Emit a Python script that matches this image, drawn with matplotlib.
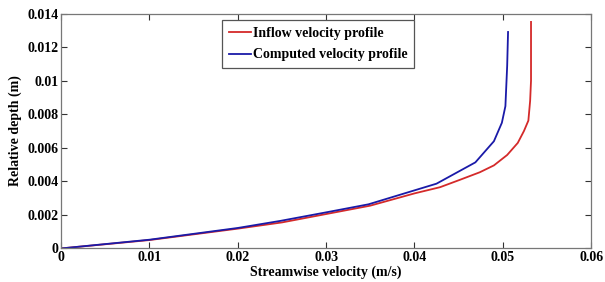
import matplotlib
matplotlib.use('Agg')
import matplotlib.pyplot as plt

# velocities (m/s) and relative depths (m)
inflow_u = [0.0, 0.010, 0.020, 0.025, 0.030, 0.035, 0.040, 0.0429, 0.0452,
            0.0474, 0.0490, 0.0505, 0.0517, 0.0524, 0.0529, 0.0531, 0.0532, 0.0532]
inflow_z = [0.0, 0.00050, 0.00118, 0.00155, 0.00205, 0.00255, 0.00328, 0.00365,
            0.0041, 0.00454, 0.00495, 0.00557, 0.00629, 0.0070, 0.00762, 0.0088,
            0.0100, 0.0135]

computed_u = [0.0, 0.010, 0.020, 0.0248, 0.0301, 0.0348, 0.0425, 0.0469,
              0.0490, 0.0499, 0.0503, 0.0505, 0.0506]
computed_z = [0.0, 0.00052, 0.00122, 0.00164, 0.00216, 0.00263, 0.00386,
              0.00513, 0.00639, 0.00749, 0.00848, 0.01088, 0.0129]

plt.rcParams['font.family'] = ['Liberation Serif', 'DejaVu Serif']
plt.rcParams['font.weight'] = 'bold'

fig = plt.figure(figsize=(6.05, 2.82), dpi=100)
ax = fig.add_axes([0.101, 0.119, 0.876, 0.833])

ax.plot(inflow_u, inflow_z, color='#d42a2a', lw=1.3, label='Inflow velocity profile')
ax.plot(computed_u, computed_z, color='#1a1aa8', lw=1.3, label='Computed velocity profile')

ax.set_xlim(0, 0.06)
ax.set_ylim(0, 0.014)
ax.set_xticks([0, 0.01, 0.02, 0.03, 0.04, 0.05, 0.06])
ax.set_xticklabels(['0', '0.01', '0.02', '0.03', '0.04', '0.05', '0.06'])
ax.set_yticks([0, 0.002, 0.004, 0.006, 0.008, 0.01, 0.012, 0.014])
ax.set_yticklabels(['0', '0.002', '0.004', '0.006', '0.008', '0.01', '0.012', '0.014'])
ax.tick_params(direction='in', top=True, right=True, length=4, width=0.8,
               labelsize=10, pad=2, colors='#333333', labelcolor='black')
for s in ax.spines.values():
    s.set_color('#777777')
    s.set_linewidth(0.9)

ax.set_xlabel('Streamwise velocity (m/s)', fontsize=10, fontweight='bold', labelpad=1)
ax.set_ylabel('Relative depth (m)', fontsize=10, fontweight='bold', labelpad=4)

leg = ax.legend(loc='upper left', bbox_to_anchor=(0.304, 0.972), fontsize=10,
                handlelength=1.6, handletextpad=0.1, borderpad=0.5,
                labelspacing=0.6, fancybox=False, framealpha=1, borderaxespad=0)
leg.get_frame().set_edgecolor('#555555')
leg.get_frame().set_linewidth(0.9)

plt.savefig('out.png', dpi=100)
